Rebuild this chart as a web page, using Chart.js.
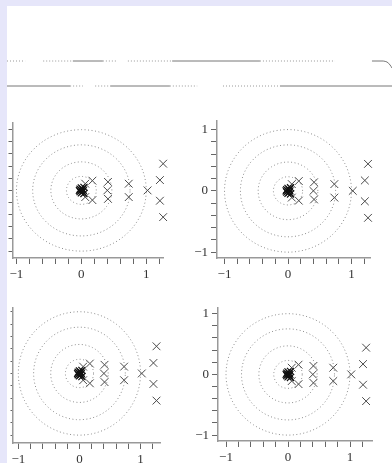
<!DOCTYPE html>
<html>
<head>
<meta charset="utf-8">
<script src="https://cdn.jsdelivr.net/npm/chart.js@4/dist/chart.umd.min.js"></script>
<style>
  html, body { margin: 0; padding: 0; }
  body { width: 392px; height: 463px; background: #e6e6fa; position: relative; overflow: hidden; }
  #sheet { position: absolute; left: 7px; top: 6px; right: 0; bottom: 0; background: #fff; }
  canvas { position: absolute; }
</style>
</head>
<body>
<div id="sheet"></div>
<canvas id="strip"></canvas>
<canvas id="p0"></canvas>
<canvas id="p1"></canvas>
<canvas id="p2"></canvas>
<canvas id="p3"></canvas>
<script>
// ---- data ----
const ringRadii = [0.23, 0.47, 0.75, 1.0];

const clusterX = [0, 0.02, -0.02, 0.02, -0.02, 0, 0, 0.03, -0.03, 0.04, 0.04];
const clusterY = [0, 0.02, 0.02, -0.02, -0.02, 0.04, -0.04, 0, 0, 0.05, -0.05];

const markX = [0.06, 0.17, 0.06, 0.17, 0.41, 0.40, 0.41, 0.73, 0.73, 1.02, 1.26, 1.21, 1.21, 1.26];
const markY = [0.11, 0.16, -0.11, -0.16, 0.14, 0, -0.14, 0.11, -0.11, 0, 0.44, 0.17, -0.17, -0.44];

const xTicks = [-1, -0.8, -0.6, -0.4, -0.2, 0, 0.2, 0.4, 0.6, 0.8, 1, 1.2];
const yTicks = [-1, -0.8, -0.6, -0.4, -0.2, 0, 0.2, 0.4, 0.6, 0.8, 1];
const tickLabels = { "-1": "\u22121", "0": "0", "1": "1" };

// rules across the top (x in percent of width, y: upper rule = 1, lower rule = 0)
const upperSolid = [[17.1, 24.9], [42.9, 65.7], [94.8, 97.7]];
const upperDotted = [[0, 4.7], [9.4, 17.1], [24.9, 28.6], [31.4, 42.9], [65.7, 85.2]];
const lowerSolid = [[0, 16.4], [26.8, 42.3], [70.9, 100]];
const lowerDotted = [[16.4, 19.7], [22.9, 26.8], [42.3, 49.4], [56.1, 70.9]];
const hookX = [97.7, 98.7, 99.5, 100];
const hookY = [1, 0.96, 0.84, 0.72];

// ---- layout (page pixels) ----
const panels = [
  { id: "p0", left: 6,   top: 112, width: 166, height: 168, ax: 10,  ay: 258, right: 163, areaTop: 120, cx: 80,  cy: 189, ux: 66,   uy: 62, yLabels: false },
  { id: "p1", left: 190, top: 110, width: 190, height: 170, ax: 217, ay: 258, right: 370, areaTop: 117, cx: 288, cy: 189, ux: 63.5, uy: 63, yLabels: true },
  { id: "p2", left: 6,   top: 297, width: 164, height: 166, ax: 8,   ay: 443, right: 160, areaTop: 305, cx: 77,  cy: 372, ux: 63,   uy: 63, yLabels: false },
  { id: "p3", left: 190, top: 297, width: 195, height: 166, ax: 218, ay: 441, right: 372, areaTop: 305, cx: 288, cy: 373, ux: 62,   uy: 62, yLabels: true }
];

const serif = { family: "'Liberation Serif', 'DejaVu Serif', serif", size: 13 };

function ring(r) {
  const pts = [];
  for (let i = 0; i <= 96; i++) {
    const a = (i / 96) * 2 * Math.PI;
    pts.push({ x: r * Math.cos(a), y: r * Math.sin(a) });
  }
  return pts;
}

function label(v) {
  const k = String(Math.round(v * 100) / 100);
  return tickLabels[k] !== undefined ? tickLabels[k] : "";
}

function place(canvas, l, t, w, h) {
  canvas.width = w;
  canvas.height = h;
  canvas.style.left = l + "px";
  canvas.style.top = t + "px";
  canvas.style.width = w + "px";
  canvas.style.height = h + "px";
}

panels.forEach(p => {
  const el = document.getElementById(p.id);
  place(el, p.left, p.top, p.width, p.height);

  const datasets = ringRadii.map(r => ({
    type: "line",
    data: ring(r),
    borderColor: "#8c8c8c",
    borderWidth: 1,
    borderDash: [1, 2.5],
    pointRadius: 0,
    tension: 0,
    fill: false
  }));
  datasets.push({
    data: clusterX.map((x, i) => ({ x: x, y: clusterY[i] })),
    pointStyle: "crossRot",
    pointRadius: 5,
    borderColor: "#111",
    borderWidth: 1.2,
    clip: false
  });
  datasets.push({
    data: markX.map((x, i) => ({ x: x, y: markY[i] })),
    pointStyle: "crossRot",
    pointRadius: 5.5,
    borderColor: "#4a4a4a",
    borderWidth: 1,
    clip: false
  });

  const yw = p.ax - p.left;
  const xh = p.top + p.height - p.ay;

  new Chart(el, {
    type: "scatter",
    data: { datasets: datasets },
    options: {
      responsive: false,
      animation: false,
      events: [],
      layout: { padding: { left: 0, top: p.areaTop - p.top, right: p.left + p.width - p.right, bottom: 0 } },
      plugins: { legend: { display: false }, tooltip: { enabled: false } },
      scales: {
        x: {
          type: "linear",
          min: (p.ax - p.cx) / p.ux,
          max: (p.right - p.cx) / p.ux,
          afterBuildTicks: s => { s.ticks = xTicks.map(v => ({ value: v })); },
          afterFit: s => { s.height = xh; },
          border: { display: true, color: "#999", width: 1.5 },
          grid: { drawOnChartArea: false, drawTicks: true, tickLength: 6, color: "#666", lineWidth: 1 },
          ticks: { callback: v => label(v), autoSkip: false, maxRotation: 0, padding: 3, color: "#333", font: serif }
        },
        y: {
          type: "linear",
          min: (p.cy - p.ay) / p.uy,
          max: (p.cy - p.areaTop) / p.uy,
          afterBuildTicks: s => { s.ticks = yTicks.map(v => ({ value: v })); },
          afterFit: s => { s.width = yw; },
          border: { display: true, color: "#999", width: 1.5 },
          grid: { drawOnChartArea: false, drawTicks: true, tickLength: Math.min(6, yw), color: "#666", lineWidth: 1 },
          ticks: { callback: v => p.yLabels ? label(v) : "", autoSkip: false, padding: 3, color: "#333", font: serif }
        }
      }
    }
  });
});

// ---- top rules ----
function segs(list, y) {
  const out = [];
  list.forEach(s => {
    out.push({ x: s[0], y: y }, { x: s[1], y: y }, { x: s[1], y: null });
  });
  return out;
}

const strip = document.getElementById("strip");
place(strip, 7, 50, 385, 47);

new Chart(strip, {
  type: "line",
  data: {
    datasets: [
      { data: segs(upperSolid, 1).concat(segs(lowerSolid, 0)), borderColor: "#777", borderWidth: 1, clip: false },
      { data: segs(upperDotted, 1).concat(segs(lowerDotted, 0)), borderColor: "#999", borderWidth: 1, borderDash: [1, 2], clip: false },
      { data: hookX.map((x, i) => ({ x: x, y: hookY[i] })), borderColor: "#777", borderWidth: 1, tension: 0.4, clip: false }
    ]
  },
  options: {
    responsive: false,
    animation: false,
    events: [],
    spanGaps: false,
    elements: { point: { radius: 0 } },
    layout: { padding: { left: 0, right: 0, top: 11, bottom: 11 } },
    plugins: { legend: { display: false }, tooltip: { enabled: false } },
    scales: {
      x: { type: "linear", min: 0, max: 100, display: false },
      y: { type: "linear", min: 0, max: 1, display: false }
    }
  }
});
</script>
</body>
</html>
